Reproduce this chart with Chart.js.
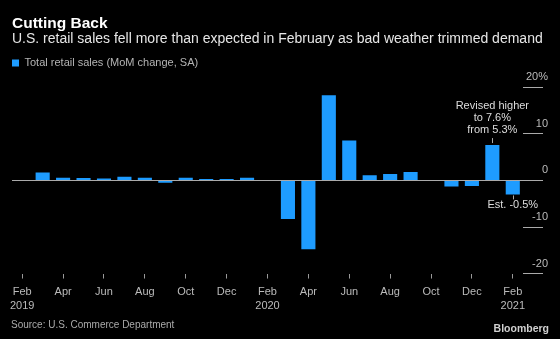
<!DOCTYPE html>
<html lang="en">
<head>
  <meta charset="UTF-8">
  <title>Cutting Back</title>
  <script src="https://cdn.jsdelivr.net/npm/chart.js"></script>
  <style>
    html, body { margin: 0; padding: 0; background: #000; }
    canvas { display: block; }
  </style>
</head>
<body>
  <canvas id="salesChart" width="560" height="339"></canvas>

  <script>
    // monthly categories, Feb 2019 - Feb 2021
    const categories = [
      '2019-02', '2019-03', '2019-04', '2019-05', '2019-06', '2019-07', '2019-08',
      '2019-09', '2019-10', '2019-11', '2019-12', '2020-01', '2020-02', '2020-03',
      '2020-04', '2020-05', '2020-06', '2020-07', '2020-08', '2020-09', '2020-10',
      '2020-11', '2020-12', '2021-01', '2021-02'
    ];

    // total retail sales, MoM % change, SA
    const salesChange = [
      -0.1, 1.7, 0.6, 0.5, 0.4, 0.8, 0.6,
      -0.5, 0.6, 0.3, 0.3, 0.6, -0.1, -8.3,
      -14.8, 18.3, 8.6, 1.1, 1.4, 1.8, -0.1,
      -1.3, -1.2, 7.6, -3.0
    ];

    // x tick labels, null = no tick
    const tickLabels = [
      ['Feb', '2019'], null, ['Apr'], null, ['Jun'], null, ['Aug'],
      null, ['Oct'], null, ['Dec'], null, ['Feb', '2020'], null,
      ['Apr'], null, ['Jun'], null, ['Aug'], null, ['Oct'],
      null, ['Dec'], null, ['Feb', '2021']
    ];

    const yTicks = [-20, -10, 0, 10, 20];
    const yMax = 21.9; // a little headroom above the 20% tick

    const revisedNote = ['Revised higher', 'to 7.6%', 'from 5.3%'];
    const estimateNote = ['Est. -0.5%'];

    const FONT = '"Liberation Sans", Arial, sans-serif';
    const BLUE = '#1e9cff';

    Chart.defaults.font.family = FONT;

    // notes next to the last two bars + source line
    const notesPlugin = {
      id: 'notes',
      afterDatasetsDraw(chart) {
        const ctx = chart.ctx;
        const bars = chart.getDatasetMeta(0).data;
        ctx.save();
        ctx.font = '11px ' + FONT;
        ctx.textAlign = 'center';
        ctx.textBaseline = 'middle';
        ctx.strokeStyle = '#aaa';
        ctx.lineWidth = 1;

        // revised January bar
        const jan = bars[23];
        ctx.beginPath();
        ctx.moveTo(Math.round(jan.x) + 0.5, jan.y - 7);
        ctx.lineTo(Math.round(jan.x) + 0.5, jan.y - 2);
        ctx.stroke();
        ctx.fillStyle = '#dddddd';
        revisedNote.forEach((line, i) => {
          ctx.fillText(line, jan.x, jan.y - 15 - (revisedNote.length - 1 - i) * 12);
        });

        // estimate for February
        const feb = bars[24];
        ctx.beginPath();
        ctx.moveTo(Math.round(feb.x) + 0.5, feb.y + 1);
        ctx.lineTo(Math.round(feb.x) + 0.5, feb.y + 5);
        ctx.stroke();
        estimateNote.forEach((line, i) => {
          ctx.fillText(line, feb.x, feb.y + 11 + i * 12);
        });
        ctx.restore();
      },
      afterDraw(chart) {
        const ctx = chart.ctx;
        ctx.save();
        ctx.textBaseline = 'middle';
        ctx.fillStyle = '#aaaaaa';
        ctx.font = '10px ' + FONT;
        ctx.textAlign = 'left';
        ctx.fillText('Source: U.S. Commerce Department', 11, chart.height - 14);
        ctx.fillStyle = '#d0d0d0';
        ctx.font = 'bold 10.5px ' + FONT;
        ctx.textAlign = 'right';
        ctx.fillText('Bloomberg', 549, chart.height - 10);
        ctx.restore();
      }
    };

    const ctx = document.getElementById('salesChart').getContext('2d');
    new Chart(ctx, {
      type: 'bar',
      data: {
        labels: categories,
        datasets: [{
          label: 'Total retail sales (MoM change, SA)',
          data: salesChange,
          backgroundColor: BLUE,
          borderWidth: 0,
          barPercentage: 0.69,
          categoryPercentage: 1
        }]
      },
      options: {
        responsive: false,
        animation: false,
        devicePixelRatio: 1,
        layout: { padding: { left: 12, right: 12, top: 0, bottom: 20.5 } },
        plugins: {
          tooltip: { enabled: false },
          title: {
            display: true,
            text: 'Cutting Back',
            align: 'start',
            color: '#ffffff',
            font: { size: 15.5, weight: 'bold', lineHeight: 1 },
            padding: { top: 16, bottom: 0 }
          },
          subtitle: {
            display: true,
            text: 'U.S. retail sales fell more than expected in February as bad weather trimmed demand',
            align: 'start',
            color: '#e6e6e6',
            font: { size: 14, lineHeight: 1 },
            padding: { top: 1, bottom: 11 }
          },
          legend: {
            display: true,
            position: 'top',
            align: 'start',
            labels: {
              boxWidth: 7,
              boxHeight: 7,
              padding: 0,
              color: '#b4b4b4',
              font: { size: 11 }
            }
          }
        },
        scales: {
          x: {
            offset: true,
            border: { display: false },
            grid: {
              display: true,
              drawOnChartArea: false,
              offset: false,
              tickLength: 5,
              tickColor: '#999'
            },
            ticks: {
              autoSkip: false,
              maxRotation: 0,
              padding: 6,
              color: '#bbbbbb',
              font: { size: 11, lineHeight: 1.27 },
              callback: (value, index) => tickLabels[index]
            }
          },
          y: {
            position: 'right',
            min: yTicks[0],
            max: yMax,
            border: { display: false },
            afterFit: scale => {
              scale.width = 25;
            },
            grid: {
              drawTicks: true,
              tickLength: 20,
              tickColor: '#aaaaaa',
              color: c => (c.tick && c.tick.value === 0 ? '#aaaaaa' : 'transparent')
            },
            ticks: {
              stepSize: 10,
              includeBounds: false,
              padding: -15,
              crossAlign: 'far',
              labelOffset: -10,
              color: '#bbbbbb',
              font: { size: 11 },
              callback: v => (v === yTicks[yTicks.length - 1] ? v + '%' : v)
            }
          }
        }
      },
      plugins: [notesPlugin]
    });
  </script>
</body>
</html>
